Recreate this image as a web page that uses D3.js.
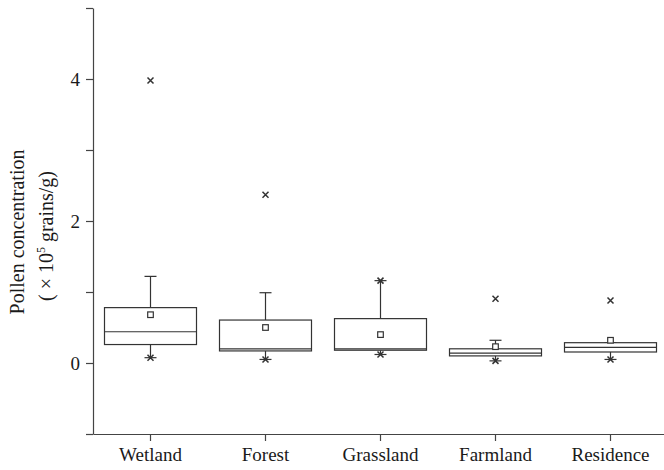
<!DOCTYPE html>
<html><head><meta charset="utf-8">
<script src="https://cdn.jsdelivr.net/npm/d3@7"></script>
<style>
html,body{margin:0;padding:0;background:#fff;}
</style></head>
<body><svg id="c" width="664" height="470"></svg>
<script>
const categories = ["Wetland","Forest","Grassland","Farmland","Residence"];
const q1Values     = [0.26, 0.17, 0.18, 0.10, 0.155];
const medianValues = [0.44, 0.20, 0.20, 0.14, 0.22];
const q3Values     = [0.78, 0.605, 0.625, 0.20, 0.286];
const meanValues   = [0.68, 0.50, 0.40, 0.23, 0.32];
const whiskerLow   = [0.075, 0.05, 0.12, 0.03, 0.05];
const whiskerHigh  = [1.22, 0.99, 1.16, 0.32, 0.286];
const minValues    = [0.075, 0.05, 0.12, 0.03, 0.05];
const maxValues    = [3.98, 2.37, 1.16, 0.905, 0.88];
const yTicks = [-1, 0, 1, 2, 3, 4, 5];
const yLabelled = [0, 2, 4];

const FONT = "'Liberation Serif'";
const data = categories.map((c,i)=>({cat:c,q1:q1Values[i],med:medianValues[i],q3:q3Values[i],
  mean:meanValues[i],wl:whiskerLow[i],wh:whiskerHigh[i],min:minValues[i],max:maxValues[i]}));

const svg = d3.select("#c");
const line = "#333";
const x = d3.scaleBand().domain(categories).range([93, 668]).paddingInner(0.2).paddingOuter(0.1);
const y = d3.scaleLinear().domain([-1, 5]).range([434, 8]);

// axes
const yAxis = d3.axisLeft(y).tickValues(yTicks).tickSize(7).tickSizeOuter(0).tickPadding(6)
  .tickFormat(d => yLabelled.includes(d) ? d3.format("d")(d) : "");
const gy = svg.append("g").attr("transform","translate(93,0)").call(yAxis);
const xAxis = d3.axisBottom(x).tickSize(7).tickSizeOuter(0).tickPadding(7);
const gx = svg.append("g").attr("transform","translate(0,434)").call(xAxis);
[gx, gy].forEach(g=>{
  g.attr("font-family", null).attr("font-size", null);
  g.selectAll("path,line").attr("stroke", "#444").attr("stroke-width", 1.2);
  g.selectAll("text").style("font-family", FONT).style("font-size","19px").attr("fill","#1a1a1a");
});

const g = svg.append("g").attr("fill","none").attr("stroke",line).attr("stroke-width",1.2);
const cx = d => x(d.cat) + x.bandwidth()/2;
const capW = 12;

data.forEach(d=>{
  const c = cx(d);
  g.append("line").attr("x1",c).attr("x2",c).attr("y1",y(d.q3)).attr("y2",y(d.wh));
  g.append("line").attr("x1",c).attr("x2",c).attr("y1",y(d.q1)).attr("y2",y(d.wl));
  g.append("line").attr("x1",c-capW/2).attr("x2",c+capW/2).attr("y1",y(d.wh)).attr("y2",y(d.wh));
  g.append("line").attr("x1",c-capW/2).attr("x2",c+capW/2).attr("y1",y(d.wl)).attr("y2",y(d.wl));
  g.append("rect").attr("x",x(d.cat)).attr("width",x.bandwidth())
    .attr("y",y(d.q3)).attr("height",y(d.q1)-y(d.q3)).attr("fill","#fff");
  g.append("line").attr("x1",x(d.cat)).attr("x2",x(d.cat)+x.bandwidth()).attr("y1",y(d.med)).attr("y2",y(d.med));
  g.append("rect").attr("x",c-2.8).attr("y",y(d.mean)-2.8).attr("width",5.6).attr("height",5.6).attr("fill","#fff");
  [d.min, d.max].forEach(v=>{
    const yy = y(v), s = 3;
    g.append("path").attr("d",`M${c-s},${yy-s}L${c+s},${yy+s}M${c-s},${yy+s}L${c+s},${yy-s}`).attr("stroke-width",1.5);
  });
});

// y title
const t1 = svg.append("text").attr("transform","translate(24,232) rotate(-90)")
  .attr("text-anchor","middle").style("font-family", FONT).style("font-size","20px").attr("fill","#1a1a1a")
  .text("Pollen concentration");
const t2 = svg.append("text").attr("transform","translate(53,236) rotate(-90)")
  .attr("text-anchor","middle").style("font-family", FONT).style("font-size","20px").attr("fill","#1a1a1a");
t2.append("tspan").text("( × 10");
t2.append("tspan").attr("dy","-8").style("font-size","12px").text("5");
t2.append("tspan").attr("dy","8").text(" grains/g)");
</script></body></html>
